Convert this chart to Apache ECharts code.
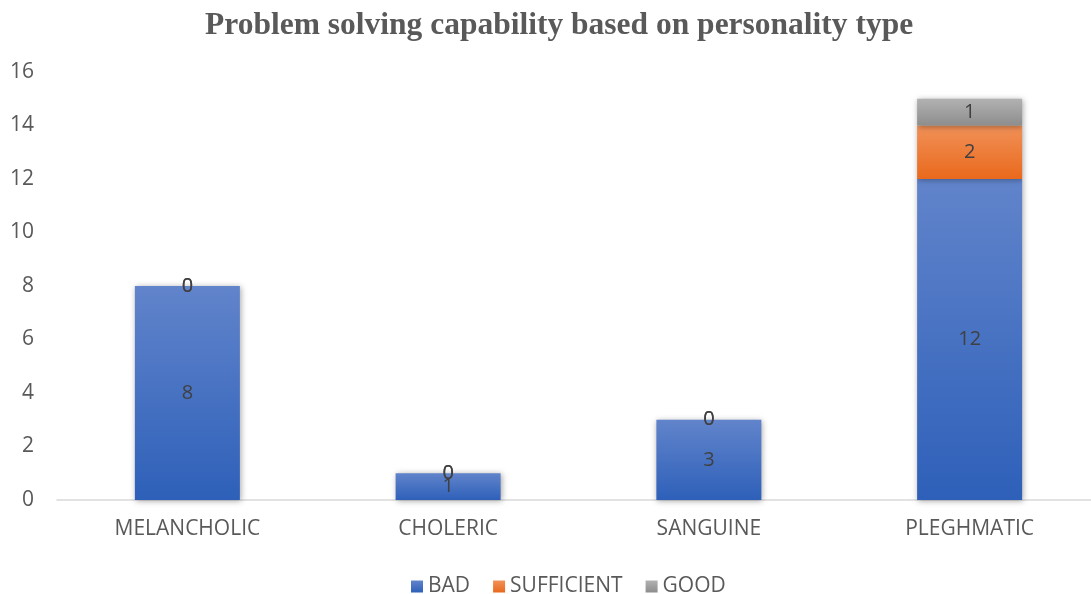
<!doctype html>
<html>
<head>
    <meta charset="utf-8">
    <title>Problem solving capability</title>
    <style>
        html, body { margin: 0; padding: 0; background: #fff; }
        #Chart { width: 1091px; height: 594px; }
    </style>
</head>
<body>
    <div id="Chart"></div>
</body>
</html>
<script src="https://cdn.jsdelivr.net/npm/echarts@6/dist/echarts.min.js"></script>
<script>
    var categories = ['MELANCHOLIC', 'CHOLERIC', 'SANGUINE', 'PLEGHMATIC'];
    var badData = [8, 1, 3, 12];
    var sufficientData = [0, 0, 0, 2];
    var goodData = [0, 0, 0, 1];
    var yTicks = { min: 0, max: 16, interval: 2 };

    function grad(top, bottom) {
        return new echarts.graphic.LinearGradient(0, 0, 0, 1, [
            { offset: 0, color: top },
            { offset: 1, color: bottom }
        ]);
    }

    var labelStyle = {
        show: true,
        position: 'inside',
        color: '#404040',
        fontSize: 20,
        fontFamily: 'Open Sans'
    };

    function makeSeries(name, data, top, bottom) {
        return {
            name: name,
            type: 'bar',
            stack: 'total',
            barWidth: 105,
            data: data,
            label: labelStyle,
            itemStyle: {
                color: grad(top, bottom),
                shadowColor: 'rgba(0, 0, 0, 0.35)',
                shadowBlur: 6,
                shadowOffsetX: 1,
                shadowOffsetY: 1
            }
        };
    }

    var myChart = echarts.init(document.getElementById('Chart'));
    var option = {
        animation: false,
        title: {
            text: 'Problem solving capability based on personality type',
            left: 200,
            top: 5,
            textStyle: {
                fontFamily: 'Liberation Serif',
                fontWeight: 'bold',
                fontSize: 31.5,
                color: '#595959'
            }
        },
        legend: {
            top: 571,
            left: 406,
            itemWidth: 12,
            itemHeight: 12,
            itemGap: 23,
            icon: 'rect',
            textStyle: { color: '#595959', fontSize: 21, fontFamily: 'Open Sans' },
            data: ['BAD', 'SUFFICIENT', 'GOOD']
        },
        grid: { left: 57, top: 72, width: 1043, height: 428, outerBoundsMode: 'none', containLabel: false },
        xAxis: {
            type: 'category',
            data: categories,
            axisLine: { lineStyle: { color: '#d9d9d9', width: 1.5 } },
            axisTick: { show: false },
            axisLabel: { color: '#595959', fontSize: 21, fontFamily: 'Open Sans', margin: 19 }
        },
        yAxis: {
            type: 'value',
            min: yTicks.min,
            max: yTicks.max,
            interval: yTicks.interval,
            splitLine: { show: false },
            axisLine: { show: false },
            axisTick: { show: false },
            axisLabel: { color: '#595959', fontSize: 21, fontFamily: 'Open Sans', margin: 23 }
        },
        series: [
            makeSeries('BAD', badData, '#6184cb', '#2e60b9'),
            makeSeries('SUFFICIENT', sufficientData, '#f19158', '#e9691c'),
            makeSeries('GOOD', goodData, '#b2b2b2', '#8d8d8d')
        ]
    };
    myChart.setOption(option);
</script>
